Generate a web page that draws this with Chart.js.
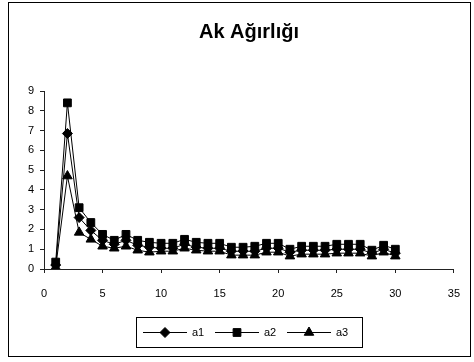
<!DOCTYPE html>
<html>
<head>
<meta charset="utf-8">
<script src="https://cdn.jsdelivr.net/npm/chart.js@4.4.0/dist/chart.umd.min.js"></script>
<style>
  html, body { margin: 0; padding: 0; background: #fff; }
  #wrap { position: relative; width: 474px; height: 362px; }
</style>
</head>
<body>
<div id="wrap"><canvas id="akChart" width="474" height="362"></canvas></div>
<script>
const chartTitle = "Ak Ağırlığı";
const days = [1, 2, 3, 4, 5, 6, 7, 8, 9, 10, 11, 12, 13, 14, 15, 16, 17, 18, 19, 20, 21, 22, 23, 24, 25, 26, 27, 28, 29, 30];
const a1 = [0.2, 6.85, 2.6, 1.95, 1.45, 1.25, 1.45, 1.2, 1.1, 1.05, 1.05, 1.25, 1.1, 1.05, 1.05, 0.9, 0.9, 0.9, 1.05, 1.05, 0.85, 0.95, 0.95, 0.95, 1.0, 1.0, 1.0, 0.8, 1.0, 0.8];
const a2 = [0.35, 8.4, 3.1, 2.35, 1.75, 1.45, 1.75, 1.45, 1.35, 1.3, 1.3, 1.5, 1.35, 1.3, 1.3, 1.1, 1.1, 1.15, 1.3, 1.3, 1.0, 1.15, 1.15, 1.15, 1.25, 1.25, 1.25, 0.95, 1.2, 1.0];
const a3 = [0.1, 4.7, 1.85, 1.5, 1.15, 1.05, 1.15, 0.95, 0.85, 0.9, 0.9, 1.05, 0.95, 0.9, 0.9, 0.7, 0.7, 0.7, 0.85, 0.85, 0.65, 0.75, 0.75, 0.75, 0.8, 0.8, 0.8, 0.65, 0.85, 0.65];
const seriesNames = ["a1", "a2", "a3"];
const markers = ["rectRot", "rect", "triangle"];
const markerSizes = [5, 5.5, 5.5];
const xMin = 0, xMax = 35, xStep = 5;
const yMin = 0, yMax = 9, yStep = 1;

const fontFamily = "'Liberation Sans', Arial, sans-serif";
const labelFont = { family: fontFamily, size: 11 };

function toPoints(vals) {
  return days.map((d, i) => ({ x: d, y: vals[i] }));
}

// frame round the chart, title, and excel style legend box at the bottom
const boxLegend = {
  id: "boxLegend",
  afterDraw(chart) {
    const ctx = chart.ctx;
    ctx.save();
    ctx.strokeStyle = "#000";
    ctx.fillStyle = "#000";
    ctx.lineWidth = 1;
    ctx.strokeRect(8.5, 2.5, 462, 354);

    ctx.font = "bold 20px " + fontFamily;
    ctx.textAlign = "center";
    ctx.textBaseline = "middle";
    ctx.fillText(chartTitle, 249, 32);

    const left = 136, top = 317, w = 226, h = 30;
    ctx.strokeRect(left + 0.5, top + 0.5, w, h);
    ctx.font = "11px " + fontFamily;
    ctx.textAlign = "left";
    const cy = top + h / 2 + 0.5;
    chart.data.datasets.forEach((ds, i) => {
      const x = left + 7 + i * 72;
      ctx.beginPath();
      ctx.moveTo(x, cy);
      ctx.lineTo(x + 44, cy);
      ctx.stroke();
      Chart.helpers.drawPoint(ctx, { pointStyle: ds.pointStyle, radius: ds.pointRadius, borderWidth: 1 }, x + 22, cy);
      ctx.fillText(ds.label, x + 49, cy);
    });
    ctx.restore();
  }
};

const datasets = [a1, a2, a3].map((vals, i) => ({
  label: seriesNames[i],
  data: toPoints(vals),
  showLine: true,
  borderColor: "#000",
  borderWidth: 1,
  backgroundColor: "#000",
  pointStyle: markers[i],
  pointRadius: markerSizes[i],
  pointBackgroundColor: "#000",
  pointBorderColor: "#000",
  pointBorderWidth: 1,
  order: 3 - i
}));

new Chart(document.getElementById("akChart"), {
  type: "scatter",
  data: { datasets: datasets },
  plugins: [boxLegend],
  options: {
    responsive: false,
    animation: false,
    devicePixelRatio: 1,
    layout: { padding: { left: 0, right: 17, top: 91, bottom: 0 } },
    plugins: {
      legend: { display: false },
      tooltip: { enabled: false },
      title: { display: false }
    },
    scales: {
      x: {
        type: "linear",
        min: xMin,
        max: xMax,
        ticks: { stepSize: xStep, color: "#000", font: labelFont, padding: 14, maxRotation: 0 },
        grid: { drawOnChartArea: false, drawTicks: true, tickLength: 4, color: "#222" },
        border: { color: "#222", width: 1 },
        afterFit: (s) => { s.height = 93; }
      },
      y: {
        min: yMin,
        max: yMax,
        ticks: { stepSize: yStep, color: "#000", font: labelFont, padding: 6 },
        grid: { drawOnChartArea: false, drawTicks: true, tickLength: 4, color: "#222" },
        border: { color: "#222", width: 1 },
        afterFit: (s) => { s.width = 44; }
      }
    }
  }
});
</script>
</body>
</html>
